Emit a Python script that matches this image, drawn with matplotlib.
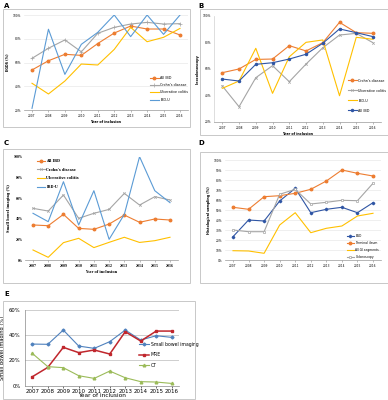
import matplotlib
matplotlib.use("Agg")
import matplotlib.pyplot as plt
from matplotlib.patches import Rectangle
from matplotlib.ticker import FuncFormatter

W, H = 388, 400

years = [2007, 2008, 2009, 2010, 2011, 2012, 2013, 2014, 2015, 2016]

# Panel A: EGDS
a_all_ibd = [53.7, 61.5, 66.9, 66.0, 76.0, 84.8, 90.7, 88.2, 88.2, 83.2]
a_crohns = [63.5, 72.0, 79.0, 69.0, 84.6, 89.6, 92.4, 93.8, 92.4, 92.7]
a_uc = [42.5, 33.5, 44.4, 58.7, 57.9, 71.0, 89.6, 77.5, 81.2, 88.7]
a_ibdu = [21.4, 88.0, 50.0, 75.3, 85.4, 100.0, 81.8, 100.0, 83.7, 100.0]

# Panel B: Ileocolonoscopy
b_crohns = [57.0, 59.8, 67.0, 67.3, 77.4, 73.4, 79.6, 95.0, 87.2, 86.7]
b_uc = [47.0, 31.3, 53.2, 62.3, 50.2, 63.5, 75.8, 85.4, 86.7, 79.6]
b_ibdu = [45.2, 50.7, 75.4, 41.4, 69.0, 79.9, 81.7, 39.6, 83.7, 82.2]
b_all_ibd = [52.2, 50.7, 63.3, 64.5, 67.3, 70.9, 79.2, 90.0, 87.2, 84.2]

# Panel C: Small bowel imaging
c_all_ibd = [33.9, 33.2, 44.2, 30.6, 29.7, 34.8, 43.5, 36.5, 39.7, 38.7]
c_crohns = [50.0, 47.4, 62.9, 40.3, 45.2, 49.0, 64.5, 53.2, 61.3, 58.1]
c_uc = [9.7, 2.6, 16.8, 21.0, 12.0, 17.1, 22.0, 17.0, 18.7, 22.0]
c_ibdu = [45.2, 37.1, 75.8, 33.9, 67.1, 20.0, 44.2, 100.0, 67.1, 55.5]

# Panel D: Histological sampling
d_egd = [23.3, 40.0, 39.0, 59.0, 71.7, 47.3, 50.7, 52.7, 47.3, 57.3]
d_ti = [52.7, 50.7, 63.3, 64.3, 66.7, 70.7, 79.0, 90.0, 86.7, 84.0]
d_allgi = [9.3, 9.0, 6.7, 35.0, 47.3, 27.3, 31.7, 34.0, 44.0, 46.7]
d_colon = [30.0, 28.3, 28.3, 65.7, 70.7, 56.0, 57.7, 59.7, 59.3, 76.7]

# Panel E: Small bowel imaging modalities
e_sbi = [33.0, 32.8, 44.1, 31.4, 29.6, 34.9, 44.1, 36.2, 39.6, 38.3]
e_mre = [7.1, 14.5, 30.4, 26.2, 28.3, 25.1, 42.8, 35.4, 43.3, 43.3]
e_ct = [25.6, 15.1, 14.3, 7.9, 5.8, 11.6, 6.3, 3.2, 2.9, 1.8]

ORANGE = "#ED7D31"
GRAY = "#A5A5A5"
YELLOW = "#FFC000"
BLUE = "#5B9BD5"
DBLUE = "#2F55A4"

fig = plt.figure(figsize=(W / 100, H / 100), dpi=100)
fig.patch.set_facecolor("white")


def add_axes_px(x2007, x2016, ytop_px, ybot_px, ymin, ymax):
    per = (x2016 - x2007) / 9.0
    left = x2007 - per / 2
    right = x2016 + per / 2
    ax = fig.add_axes([left / W, 1 - ybot_px / H, (right - left) / W, (ybot_px - ytop_px) / H])
    ax.set_xlim(2006.5, 2016.5)
    ax.set_ylim(ymin, ymax)
    return ax


def anchor(ax, xpx, ypx):
    inv = ax.transAxes.inverted()
    return tuple(inv.transform((xpx, H - ypx)))


def border(x0, y0, x1, y1):
    fig.patches.append(Rectangle((x0 / W, 1 - y1 / H), (x1 - x0) / W, (y1 - y0) / H,
                                 transform=fig.transFigure, fill=False,
                                 edgecolor="#C8C8C8", linewidth=0.7))


TFS = 2.1   # tick font size
LFS = 2.4   # legend font size
AFS = 2.4   # axis label font size


def style(ax, yticks, fs=TFS, grid=True):
    ax.set_xticks(years)
    ax.set_xticklabels([str(y) for y in years], fontsize=fs)
    ax.set_yticks(yticks)
    ax.yaxis.set_major_formatter(FuncFormatter(lambda v, p: f"{int(v)}%"))
    ax.tick_params(axis="y", labelsize=fs, length=0, pad=2)
    ax.tick_params(axis="x", length=1.5, width=0.4, pad=1.5, color="#888888")
    for s in ["top", "right"]:
        ax.spines[s].set_visible(False)
    ax.spines["left"].set_visible(False)
    ax.spines["bottom"].set_color("#999999")
    ax.spines["bottom"].set_linewidth(0.5)
    if grid:
        ax.yaxis.grid(True, color="#E3E3E3", linewidth=0.4)
        ax.set_axisbelow(True)


lw = 0.8
ms = 1.8

# ---------- Panel A ----------
border(3, 9, 190, 127)
axA = add_axes_px(32, 180, 15, 110, 20, 100)
axA.plot(years, a_all_ibd, color=ORANGE, lw=lw, marker="o", ms=ms, label="All IBD")
axA.plot(years, a_crohns, color=GRAY, lw=lw, marker="+", ms=2.2, mew=0.5, label="Crohn's disease")
axA.plot(years, a_uc, color=YELLOW, lw=lw, label="Ulcerative colitis")
axA.plot(years, a_ibdu, color=BLUE, lw=lw, label="IBD-U")
style(axA, [20, 40, 60, 80, 100])
axA.set_ylabel("EGDS (%)", fontsize=AFS, fontweight="bold", labelpad=2)
axA.set_xlabel("Year of inclusion", fontsize=AFS, fontweight="bold", labelpad=1.5)
axA.legend(loc="upper left", bbox_to_anchor=anchor(axA, 148, 74), fontsize=LFS,
           frameon=False, handlelength=2.7, labelspacing=1.0, borderpad=0, handletextpad=0.5)
fig.text(4 / W, 1 - 6 / H, "A", fontsize=5, fontweight="bold", va="center")

# ---------- Panel B ----------
border(200, 9, 388, 135)
axB = add_axes_px(222.3, 373, 15.7, 121.7, 20, 100)
axB.plot(years, b_crohns, color=ORANGE, lw=lw, marker="o", ms=ms, label="Crohn's disease")
axB.plot(years, b_uc, color=GRAY, lw=lw, marker="x", ms=1.8, mew=0.5, label="Ulcerative colitis")
axB.plot(years, b_ibdu, color=YELLOW, lw=lw, label="IBD-U")
axB.plot(years, b_all_ibd, color=DBLUE, lw=lw, marker="o", ms=ms - 0.3, label="All IBD")
style(axB, [20, 40, 60, 80, 100], grid=False)
axB.spines["left"].set_visible(True)
axB.spines["left"].set_color("#D0D0D0")
axB.spines["left"].set_linewidth(0.5)
axB.set_ylabel("Ileocolonoscopy", fontsize=AFS, fontweight="bold", labelpad=2)
axB.set_xlabel("Year of inclusion", fontsize=AFS, fontweight="bold", labelpad=1.5)
axB.legend(loc="upper left", bbox_to_anchor=anchor(axB, 346, 77), fontsize=LFS,
           frameon=False, handlelength=2.7, labelspacing=1.8, borderpad=0, handletextpad=0.5)
fig.text(198 / W, 1 - 6 / H, "B", fontsize=5, fontweight="bold", va="center")

# ---------- Panel C ----------
border(3, 149, 190, 283)
axC = add_axes_px(33, 170, 156.7, 260, 0, 100)
axC.plot(years, c_all_ibd, color=ORANGE, lw=lw, marker="o", ms=ms, label="All IBD")
axC.plot(years, c_crohns, color=GRAY, lw=lw, marker="x", ms=1.8, mew=0.5, label="Crohn's disease")
axC.plot(years, c_uc, color=YELLOW, lw=lw, label="Ulcerative colitis")
axC.plot(years, c_ibdu, color=BLUE, lw=lw, label="IBD-U")
style(axC, [0, 20, 40, 60, 80, 100], grid=False)
for t in axC.get_yticklabels() + axC.get_xticklabels():
    t.set_family("serif")
    t.set_fontweight("bold")
axC.set_ylabel("Small bowel imaging (%)", fontsize=AFS, fontweight="bold", family="serif", labelpad=2)
axC.set_xlabel("Year of inclusion", fontsize=AFS, fontweight="bold", family="serif", labelpad=1.5)
axC.legend(loc="upper left", bbox_to_anchor=anchor(axC, 35, 157.3),
           prop={"size": LFS, "family": "serif", "weight": "bold"},
           frameon=False, handlelength=2.4, labelspacing=1.4, borderpad=0, handletextpad=0.5)
fig.text(4 / W, 1 - 143 / H, "C", fontsize=5, fontweight="bold", va="center")

# ---------- Panel D ----------
border(200, 152, 388, 283)
axD = add_axes_px(233, 373, 160, 260, 0, 100)
axD.plot(years, d_egd, color=DBLUE, lw=lw, marker="D", ms=1.3, label="EGD")
axD.plot(years, d_ti, color=ORANGE, lw=lw, marker="o", ms=ms, label="Terminal ileum")
axD.plot(years, d_allgi, color=YELLOW, lw=lw, label="All GI segments")
axD.plot(years, d_colon, color=GRAY, lw=lw, marker="s", ms=1.7, mfc="white", mew=0.5, label="Colonoscopy")
style(axD, list(range(0, 101, 10)))
axD.set_ylabel("Histological sampling (%)", fontsize=AFS, fontweight="bold", labelpad=2)
axD.legend(loc="upper left", bbox_to_anchor=anchor(axD, 345, 232.6), fontsize=LFS - 0.2,
           frameon=False, handlelength=2.4, labelspacing=0.95, borderpad=0, handletextpad=0.5)
fig.text(198 / W, 1 - 143 / H, "D", fontsize=5, fontweight="bold", va="center")

# ---------- Panel E ----------
border(3, 301, 195, 399)
axE = add_axes_px(32.3, 171.7, 310, 385.7, 0, 60)
axE.plot(years, e_sbi, color="#4F81BD", lw=0.8, marker="D", ms=1.5, label="Small bowel imaging")
axE.plot(years, e_mre, color="#C0272D", lw=1.1, marker="s", ms=1.9, label="MRE")
axE.plot(years, e_ct, color="#9BBB59", lw=0.8, marker="^", ms=1.9, label="CT")
axE.set_xticks(years)
axE.set_xticklabels([str(y) for y in years], fontsize=4.0)
axE.set_yticks([0, 20, 40, 60])
axE.yaxis.set_major_formatter(FuncFormatter(lambda v, p: f"{int(v)}%"))
axE.tick_params(axis="y", labelsize=3.8, length=0, pad=3)
axE.tick_params(axis="x", length=1.5, width=0.4, pad=1.2)
for s in ["top", "right"]:
    axE.spines[s].set_visible(False)
axE.spines["left"].set_color("#888888")
axE.spines["bottom"].set_color("#888888")
axE.spines["left"].set_linewidth(0.5)
axE.spines["bottom"].set_linewidth(0.5)
axE.yaxis.grid(True, color="#BBBBBB", linewidth=0.5)
axE.set_axisbelow(True)
axE.set_ylabel("Small bowel imaging (%)", fontsize=3.7, labelpad=3)
axE.set_xlabel("Year of inclusion", fontsize=4.2, labelpad=-1)
axE.legend(loc="upper left", bbox_to_anchor=anchor(axE, 137, 339.5), fontsize=3.3,
           frameon=False, handlelength=2.2, labelspacing=1.2, borderpad=0, handletextpad=0.3)
fig.text(4 / W, 1 - 294 / H, "E", fontsize=5, fontweight="bold", va="center")

fig.savefig("out.png", dpi=100)
